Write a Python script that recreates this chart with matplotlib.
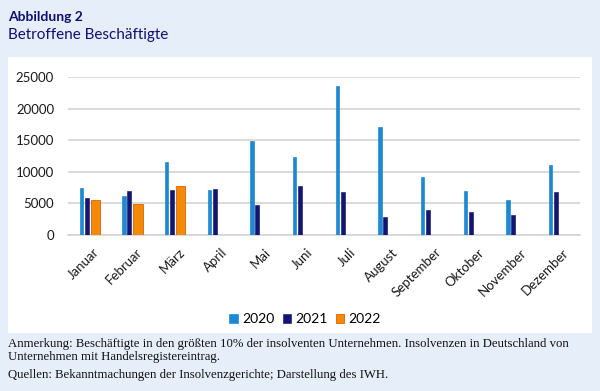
import matplotlib.pyplot as plt
import matplotlib.patches as mpatches
import matplotlib.transforms as mtransforms
import numpy as np

months = ["Januar", "Februar", "März", "April", "Mai", "Juni", "Juli",
          "August", "September", "Oktober", "November", "Dezember"]
v2020 = [7500, 6200, 11550, 7100, 14900, 12400, 23500, 17100, 9200, 6950, 5500, 11000]
v2021 = [5850, 7000, 7050, 7300, 4700, 7750, 6800, 2900, 3950, 3650, 3100, 6750]
v2022 = [5500, 4900, 7750]

bg = "#e6eef9"
navy = "#101070"

fig = plt.figure(figsize=(6, 3.91), dpi=100, facecolor=bg)

# white panel behind the chart
panel = mpatches.Rectangle((8 / 600, 1 - 333 / 391), 584 / 600, 276 / 391,
                           transform=fig.transFigure, facecolor="white",
                           edgecolor="none", zorder=-10)
fig.patches.append(panel)

ax = fig.add_axes([68 / 600, 1 - 235 / 391, 512 / 600, 158 / 391])
ax.set_facecolor("none")
ax.set_zorder(1)

x = np.arange(len(months))
ax.bar(x - 0.19, v2020, width=0.08, color="#1a8ad6", edgecolor="#1077c4",
       linewidth=0.4, label="2020", zorder=3)
ax.bar(x - 0.06, v2021, width=0.095, color="#141477", edgecolor="#0c0c5c",
       linewidth=0.4, label="2021", zorder=3)
ax.bar(x[:len(v2022)] + 0.14, v2022, width=0.22, color="#f28a05",
       edgecolor="#e0600a", linewidth=0.6, label="2022", zorder=3)

ax.set_xlim(-0.5, len(months) - 0.5)
ax.set_ylim(0, 25000)
ax.set_yticks(range(0, 25001, 5000))
ax.yaxis.grid(True, color="#d4d4d4", linewidth=1.2, zorder=0)
ax.set_axisbelow(True)
for s in ["top", "right", "left"]:
    ax.spines[s].set_visible(False)
ax.spines["bottom"].set_color("#d4d4d4")
ax.spines["bottom"].set_linewidth(1.2)
ax.tick_params(axis="both", length=0, colors="#1a1a1a", labelsize=9.5)
ax.tick_params(axis="y", pad=10)
ax.set_xticks(x)
ax.set_xticklabels(months, rotation=45, ha="right", rotation_mode="anchor")
ax.tick_params(axis="x", pad=8)
shift = mtransforms.ScaledTranslation(4 / 100, 0, fig.dpi_scale_trans)
for lab in ax.get_xticklabels():
    lab.set_transform(lab.get_transform() + shift)
for lab in ax.get_xticklabels() + ax.get_yticklabels():
    lab.set_fontfamily("Lato")

leg = ax.legend(loc="center", bbox_to_anchor=(305 / 600, 1 - 319 / 391),
                bbox_transform=fig.transFigure, ncol=3, frameon=False,
                handlelength=0.6, handleheight=0.6, handletextpad=0.3,
                columnspacing=0.6, prop={"family": "Lato", "size": 10})

fig.text(8 / 600, 1 - 17 / 391, "Abbildung 2", fontsize=10, fontweight="bold",
         color=navy, va="center", family="Lato")
fig.text(8 / 600, 1 - 35 / 391, "Betroffene Beschäftigte", fontsize=11,
         color=navy, va="center", family="Lato")

note = ("Anmerkung: Beschäftigte in den größten 10% der insolventen Unternehmen. "
        "Insolvenzen in Deutschland von\nUnternehmen mit Handelsregistereintrag.")
fig.text(8 / 600, 1 - 338 / 391, note, fontsize=9.2, color="#111111",
         va="top", family="Liberation Serif", linespacing=1.1)
fig.text(8 / 600, 1 - 369 / 391,
         "Quellen: Bekanntmachungen der Insolvenzgerichte; Darstellung des IWH.",
         fontsize=9.2, color="#111111", va="top", family="Liberation Serif")

fig.savefig("out.png", dpi=100, facecolor=bg)
